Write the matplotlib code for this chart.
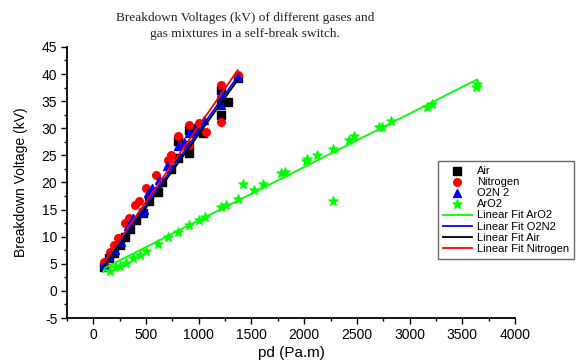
import numpy as np
import matplotlib
matplotlib.use("Agg")
import matplotlib.pyplot as plt
from matplotlib.ticker import MultipleLocator

plt.rcParams['font.family'] = ['Liberation Sans', 'DejaVu Sans']
plt.rcParams['axes.unicode_minus'] = False

# Air (black squares)
air_pd = [100, 150, 200, 250, 300, 350, 400, 470, 530, 611, 650, 740, 800, 800,
          911, 911, 911, 990, 1037, 1210, 1210, 1210, 1273, 1370]
air_kv = [4.5, 6.0, 7.0, 8.5, 10.0, 11.5, 13.0, 14.3, 16.5, 18.3, 20.0, 22.5, 24.5, 27.6,
          25.4, 26.9, 29.7, 30.0, 29.1, 32.5, 34.9, 37.1, 34.9, 39.3]

# Nitrogen (red circles)
n2_pd = [100, 154, 200, 233, 296, 340, 391, 430, 501, 540, 596, 706, 740, 801,
         850, 911, 911, 1005, 1068, 1210, 1210, 1370]
n2_kv = [5.4, 7.2, 8.5, 9.7, 12.5, 13.5, 15.8, 16.5, 18.9, 18.5, 21.4, 24.2, 25.0, 28.5,
         27.0, 30.6, 27.0, 30.9, 29.4, 38.0, 31.2, 39.8]

# O2N2 (blue triangles)
o2n2_pd = [100, 150, 201, 265, 327, 380, 440, 485, 517, 560, 627, 700, 801, 860,
           911, 960, 1052, 1210, 1210, 1370]
o2n2_kv = [5.0, 6.5, 7.5, 9.1, 11.9, 13.5, 14.5, 14.9, 18.0, 19.0, 20.5, 23.0, 26.7, 27.5,
           29.1, 29.5, 31.5, 36.5, 34.3, 39.5]

# ArO2 (green stars)
aro2_pd = [107, 154, 202, 249, 312, 375, 438, 501, 611, 706, 801, 911, 1005, 1059,
           1210, 1258, 1368, 1416, 1520, 1614, 1778, 1816, 2014, 2024, 2118, 2276,
           2276, 2424, 2471, 2708, 2739, 2824, 3164, 3212, 3631, 3640]
aro2_kv = [4.2, 3.7, 4.35, 4.6, 5.2, 6.0, 6.6, 7.4, 8.65, 9.9, 10.9, 12.2, 13.0, 13.7,
           15.5, 15.8, 16.9, 19.8, 18.7, 19.8, 21.7, 21.9, 24.0, 24.3, 25.1, 16.6,
           26.1, 27.8, 28.5, 30.2, 30.3, 31.4, 34.0, 34.5, 37.7, 38.2]

# linear fit (slope, intercept)
fit_aro2 = (0.00984, 3.18)
fit_o2n2 = (0.0272, 2.28)
fit_air = (0.0271, 1.8)
fit_n2 = (0.0279, 2.5)

fig = plt.figure(figsize=(5.8, 3.61), dpi=100)
ax = fig.add_axes([0.1155, 0.119, 0.7725, 0.751])

ax.scatter(air_pd, air_kv, marker='s', s=28, color='black', label='Air', zorder=2)
ax.scatter(n2_pd, n2_kv, marker='o', s=30, color='red', label='Nitrogen', zorder=3)
ax.scatter(o2n2_pd, o2n2_kv, marker='^', s=32, color='blue', label='O2N 2', zorder=4)
ax.scatter(aro2_pd, aro2_kv, marker='*', s=45, color='#00ff00', label='ArO2', zorder=3)

def fit_line(x, fit, color, label):
    xs = np.array([min(x), max(x)], float)
    ax.plot(xs, fit[0] * xs + fit[1], color=color, lw=1.3, label=label, zorder=5)

fit_line(aro2_pd, fit_aro2, '#00ff00', 'Linear Fit ArO2')
fit_line(o2n2_pd, fit_o2n2, 'blue', 'Linear Fit O2N2')
fit_line(air_pd, fit_air, 'black', 'Linear Fit Air')
fit_line(n2_pd, fit_n2, 'red', 'Linear Fit Nitrogen')

ax.set_xlim(-250, 4000)
ax.set_ylim(-5, 45)
ax.xaxis.set_minor_locator(MultipleLocator(250))
ax.yaxis.set_major_locator(MultipleLocator(5))
ax.yaxis.set_minor_locator(MultipleLocator(2.5))
ax.set_xticks(np.arange(0, 4001, 500))

for side in ['top', 'right']:
    ax.spines[side].set_visible(False)
for side in ['left', 'bottom']:
    ax.spines[side].set_linewidth(1.3)
ax.tick_params(which='major', length=4, width=1, labelsize=10, pad=3)
ax.tick_params(which='minor', length=2.5, width=1)

ax.set_xlabel('pd (Pa.m)', fontsize=11, labelpad=3)
ax.set_ylabel('Breakdown Voltage (kV)', fontsize=10, labelpad=10)

fig.text(0.423, 0.968, "Breakdown Voltages (kV) of different gases and\ngas mixtures in a self-break switch.",
         ha='center', va='top', fontsize=9.6, family=['Liberation Serif', 'DejaVu Serif'],
         color='#222222', linespacing=1.5)

leg = ax.legend(loc='upper left', bbox_to_anchor=(0.755, 0.554), bbox_transform=fig.transFigure,
                fontsize=8, frameon=True, fancybox=False, borderpad=0.45,
                labelspacing=0.1, handlelength=2.6, handletextpad=0.5,
                borderaxespad=0, scatterpoints=1)
leg.get_frame().set_edgecolor('#444444')
leg.get_frame().set_linewidth(1.0)

fig.savefig('out.png', dpi=100)
